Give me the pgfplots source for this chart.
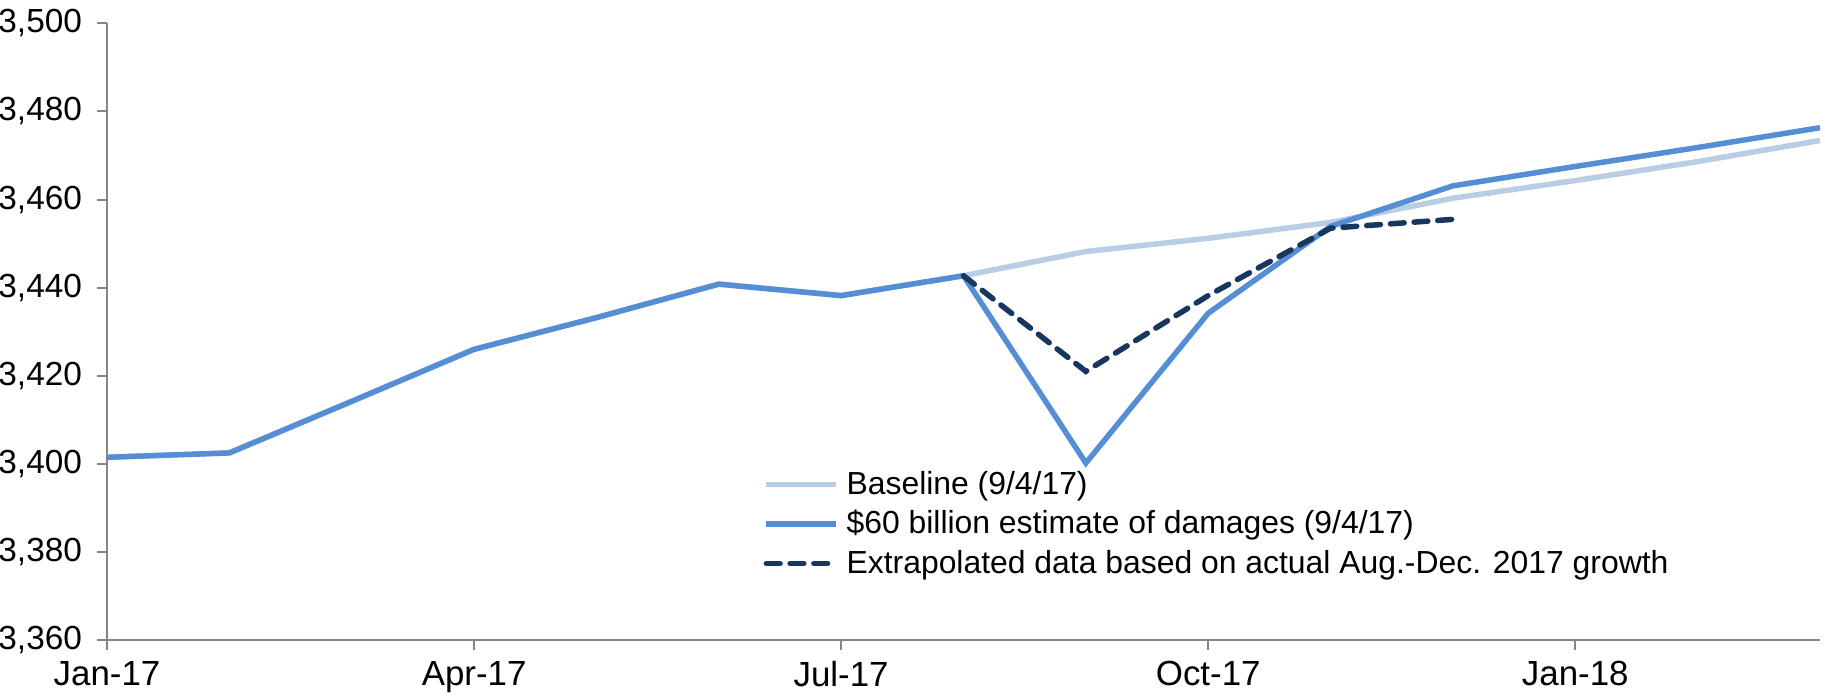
\documentclass[border=0pt]{standalone}
\usepackage{fontspec}
\setmainfont{Liberation Sans}
\usepackage{pgfplots}
\pgfplotsset{compat=1.18}
\definecolor{cbase}{HTML}{B9CDE5}
\definecolor{cdamage}{HTML}{558ED5}
\definecolor{cextrap}{HTML}{17375E}
\definecolor{axisgray}{HTML}{868686}

\begin{document}
\begin{tikzpicture}
\begin{axis}[
    name=ax,
    scale only axis,
    width=685bp, height=246.7bp,
    xmin=0, xmax=14,
    ymin=3360, ymax=3500,
    xtick={0,3,6,9,12},
    xticklabels={Jan-17,Apr-17,Jul-17,Oct-17,Jan-18},
    ytick={3360,3380,...,3500},
    axis x line*=bottom, axis y line*=left,
    axis line style={axisgray, line width=0.8bp, -},
    tick style={axisgray, line width=0.8bp},
    tick align=outside,
    major tick length=4bp,
    tick label style={text=black},
    xticklabel style={font=\fontsize{14}{16}\selectfont, yshift=-1bp},
    yticklabel style={font=\fontsize{13.4}{16}\selectfont, xshift=-2.5bp},
    /pgf/number format/assume math mode=true,
    /pgf/number format/.cd, 1000 sep={,},
    /pgfplots/.cd,
    legend style={
        at={(0.383,0.283)}, anchor=north west,
        draw=none, fill=none,
        font=\fontsize{12.8}{15}\selectfont,
        row sep=1bp, inner sep=0pt,
        /tikz/every odd column/.append style={column sep=1bp},
    },
    legend cell align=left,
    legend image code/.code={\draw[#1] (0bp,0bp) -- (28bp,0bp);},
    clip=false,
]
\addplot[cbase, line width=2.2bp] coordinates {
    (0,3401.5) (1,3402.5) (2,3414.2) (3,3426) (4,3433.2) (5,3440.8)
    (6,3438.2) (7,3442.7) (8,3448.2) (9,3451.2) (10,3454.8) (11,3460.3)
    (12,3464.3) (13,3468.6) (14,3473.4)
};
\addlegendentry{Baseline (9/4/17)}
\addplot[cdamage, line width=2.2bp] coordinates {
    (0,3401.5) (1,3402.5) (2,3414.2) (3,3426) (4,3433.2) (5,3440.8)
    (6,3438.2) (7,3442.7) (8,3400.2) (9,3434.2) (10,3453.9) (11,3463.1)
    (12,3467.5) (13,3471.8) (14,3476.3)
};
\addlegendentry{\$60 billion estimate of damages (9/4/17)}
\addplot[cextrap, line width=2.2bp, line cap=round, dash pattern=on 5.5bp off 4bp] coordinates {
    (7,3442.7) (8,3421) (9,3438.2) (10,3453.5) (11,3455.5)
};
\addlegendentry{Extrapolated data based on actual Aug.-Dec. 2017 growth}
\end{axis}
\pgfresetboundingbox
\path ([xshift=-42.8bp,yshift=-23.2bp]ax.south west) rectangle ([xshift=2bp,yshift=9.3bp]ax.north east);
\end{tikzpicture}
\end{document}
